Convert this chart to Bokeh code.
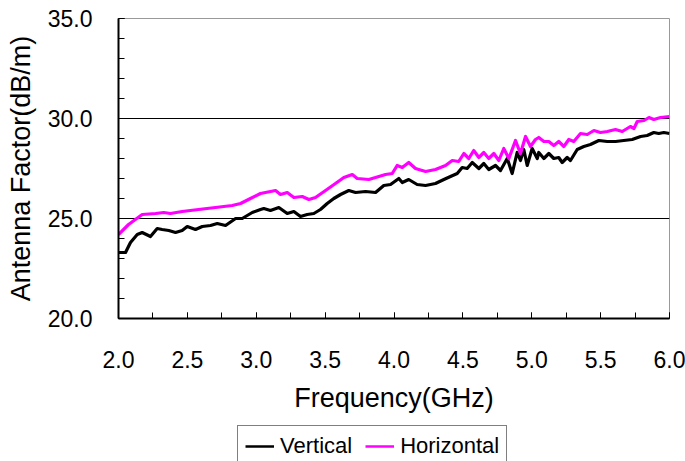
from bokeh.plotting import figure
from bokeh.layouts import column
from bokeh.models import FixedTicker, Legend, ColumnDataSource
from bokeh.embed import file_html
from bokeh.resources import INLINE

# ---------------- data ----------------
vert_f = [2.000, 2.051, 2.087, 2.136, 2.172, 2.232, 2.281, 2.317, 2.365, 2.414,
          2.462, 2.499, 2.559, 2.608, 2.668, 2.717, 2.777, 2.850, 2.898, 2.971,
          3.031, 3.055, 3.103, 3.164, 3.225, 3.273, 3.321, 3.370, 3.418, 3.466,
          3.515, 3.563, 3.612, 3.672, 3.721, 3.793, 3.866, 3.926, 3.975, 4.035,
          4.060, 4.107, 4.168, 4.229, 4.301, 4.362, 4.410, 4.459, 4.495, 4.531,
          4.568, 4.616, 4.652, 4.688, 4.737, 4.773, 4.822, 4.858, 4.894, 4.918,
          4.942, 4.967, 5.003, 5.040, 5.051, 5.088, 5.124, 5.160, 5.196, 5.221,
          5.257, 5.281, 5.330, 5.378, 5.426, 5.487, 5.548, 5.608, 5.668, 5.729,
          5.790, 5.838, 5.886, 5.922, 5.959, 6.000]
vert_v = [23.3, 23.3, 23.8, 24.2, 24.3, 24.1, 24.5, 24.45, 24.4, 24.3,
          24.4, 24.6, 24.45, 24.6, 24.65, 24.75, 24.65, 25.0, 25.0, 25.3,
          25.45, 25.5, 25.4, 25.55, 25.25, 25.35, 25.1, 25.2, 25.25, 25.45,
          25.75, 26.0, 26.2, 26.4, 26.3, 26.35, 26.3, 26.65, 26.7, 27.0,
          26.8, 26.95, 26.7, 26.65, 26.75, 26.95, 27.1, 27.25, 27.55, 27.5,
          27.8, 27.5, 27.75, 27.45, 27.65, 27.4, 28.0, 27.25, 28.3, 27.9,
          28.45, 27.65, 28.5, 28.0, 28.3, 28.0, 28.25, 28.0, 28.05, 27.8,
          28.05, 27.9, 28.45, 28.6, 28.7, 28.9, 28.85, 28.85, 28.9, 28.95,
          29.1, 29.15, 29.3, 29.25, 29.3, 29.25]

hor_f = [2.000, 2.073, 2.172, 2.269, 2.329, 2.377, 2.462, 2.581, 2.704, 2.825,
         2.886, 2.958, 3.031, 3.067, 3.140, 3.176, 3.225, 3.273, 3.334, 3.382,
         3.430, 3.503, 3.575, 3.636, 3.697, 3.733, 3.817, 3.890, 3.938, 3.987,
         4.023, 4.060, 4.107, 4.156, 4.229, 4.301, 4.374, 4.423, 4.470, 4.507,
         4.543, 4.579, 4.616, 4.652, 4.688, 4.725, 4.761, 4.797, 4.834, 4.882,
         4.918, 4.955, 4.991, 5.027, 5.051, 5.088, 5.124, 5.160, 5.196, 5.233,
         5.269, 5.305, 5.354, 5.403, 5.451, 5.499, 5.548, 5.608, 5.657, 5.716,
         5.742, 5.766, 5.815, 5.851, 5.886, 5.935, 6.000]
hor_v = [24.2, 24.7, 25.2, 25.25, 25.3, 25.25, 25.35, 25.45, 25.55, 25.65,
         25.75, 26.0, 26.25, 26.3, 26.4, 26.2, 26.3, 26.05, 26.1, 25.95,
         26.05, 26.4, 26.75, 27.05, 27.2, 27.0, 26.95, 27.1, 27.2, 27.25,
         27.65, 27.55, 27.8, 27.5, 27.35, 27.45, 27.65, 27.9, 27.85, 28.25,
         28.0, 28.4, 28.05, 28.3, 28.0, 28.25, 27.9, 28.5, 28.0, 28.9,
         28.25, 29.1, 28.6, 28.95, 29.05, 28.85, 28.85, 28.65, 28.85, 28.6,
         28.95, 28.85, 29.25, 29.2, 29.4, 29.3, 29.35, 29.45, 29.35, 29.6,
         29.5, 29.85, 29.9, 30.05, 29.95, 30.05, 30.1]

series_names = ["Vertical", "Horizontal"]
series_colors = ["black", "#ff00ff"]
x_ticks = [2.0, 2.5, 3.0, 3.5, 4.0, 4.5, 5.0, 5.5, 6.0]
x_tick_labels = ["2.0", "2.5", "3.0", "3.5", "4.0", "4.5", "5.0", "5.5", "6.0"]
x_minor = [2.0, 2.25, 2.5, 2.75, 3.0, 3.25, 3.5, 3.75, 4.0, 4.25, 4.5, 4.75,
           5.0, 5.25, 5.5, 5.75, 6.0]
y_ticks = [20, 25, 30, 35]
y_tick_labels = ["20.0", "25.0", "30.0", "35.0"]
y_minor = list(range(20, 36))
grid_lines = [25, 30]
x_title = "Frequency(GHz)"
y_title = "Antenna Factor(dB/m)"

FONT = "Liberation Sans"

# ---------------- main chart ----------------
p = figure(width=685, height=425, x_range=(2, 6), y_range=(20, 35),
           output_backend="svg", toolbar_location=None,
           min_border_left=118, min_border_right=16,
           min_border_top=18, min_border_bottom=107)
p.background_fill_color = "white"
p.border_fill_color = "white"
p.outline_line_color = "#999999"
p.outline_line_width = 1

xa = p.xaxis[0]
xa.ticker = FixedTicker(ticks=x_ticks, minor_ticks=x_minor)
xa.major_label_overrides = {t: l for t, l in zip(x_ticks, x_tick_labels)}
ya = p.yaxis[0]
ya.ticker = FixedTicker(ticks=y_ticks, minor_ticks=y_minor)
ya.major_label_overrides = {t: l for t, l in zip(y_ticks, y_tick_labels)}

for ax in (xa, ya):
    ax.axis_line_color = "black"
    ax.axis_line_width = 2
    ax.major_tick_in = 6
    ax.major_tick_out = 0
    ax.minor_tick_in = 6
    ax.minor_tick_out = 0
    ax.major_tick_line_color = "black"
    ax.minor_tick_line_color = "black"
    ax.major_tick_line_width = 1
    ax.minor_tick_line_width = 1
    ax.major_label_text_font = FONT
    ax.major_label_text_font_size = "23px"
    ax.major_label_text_color = "black"
    ax.axis_label_text_font = FONT
    ax.axis_label_text_font_size = "27px"
    ax.axis_label_text_font_style = "normal"
    ax.axis_label_text_color = "black"

xa.axis_label = x_title
ya.axis_label = y_title
xa.major_label_standoff = 32
ya.major_label_standoff = 26
xa.axis_label_standoff = 12
ya.axis_label_standoff = 9

p.xgrid.grid_line_color = None
p.ygrid.ticker = FixedTicker(ticks=grid_lines)
p.ygrid.grid_line_color = "black"
p.ygrid.grid_line_width = 1

src_v = ColumnDataSource(dict(f=vert_f, v=vert_v))
src_h = ColumnDataSource(dict(f=hor_f, v=hor_v))
p.line("f", "v", source=src_v, line_color=series_colors[0], line_width=3.2,
       line_join="round")
p.line("f", "v", source=src_h, line_color=series_colors[1], line_width=3.2,
       line_join="round")

# ---------------- legend strip below ----------------
# same series drawn again, outside this strip's visible range, only to key the legend
q = figure(width=685, height=36, x_range=(2, 6), y_range=(0, 1),
           output_backend="svg", toolbar_location=None, min_border=0)
q.axis.visible = False
q.grid.visible = False
q.outline_line_color = None
q.background_fill_color = "white"
q.border_fill_color = "white"
lv = q.line("f", "v", source=src_v, line_color=series_colors[0], line_width=2.5)
lh = q.line("f", "v", source=src_h, line_color=series_colors[1], line_width=2.5)

legend = Legend(items=[(series_names[0], [lv]), (series_names[1], [lh])],
                orientation="horizontal", location=(119, -6))
legend.label_text_font = FONT
legend.label_text_font_size = "22px"
legend.label_text_color = "black"
legend.glyph_width = 29
legend.glyph_height = 24
legend.label_height = 24
legend.label_standoff = 6
legend.spacing = 13
legend.padding = 7
legend.margin = 0
legend.border_line_color = "black"
legend.border_line_width = 1
legend.background_fill_color = "white"
legend.background_fill_alpha = 1
q.add_layout(legend, "center")

layout = column(p, q, spacing=0)
open("out.html", "w").write(file_html(layout, INLINE))
